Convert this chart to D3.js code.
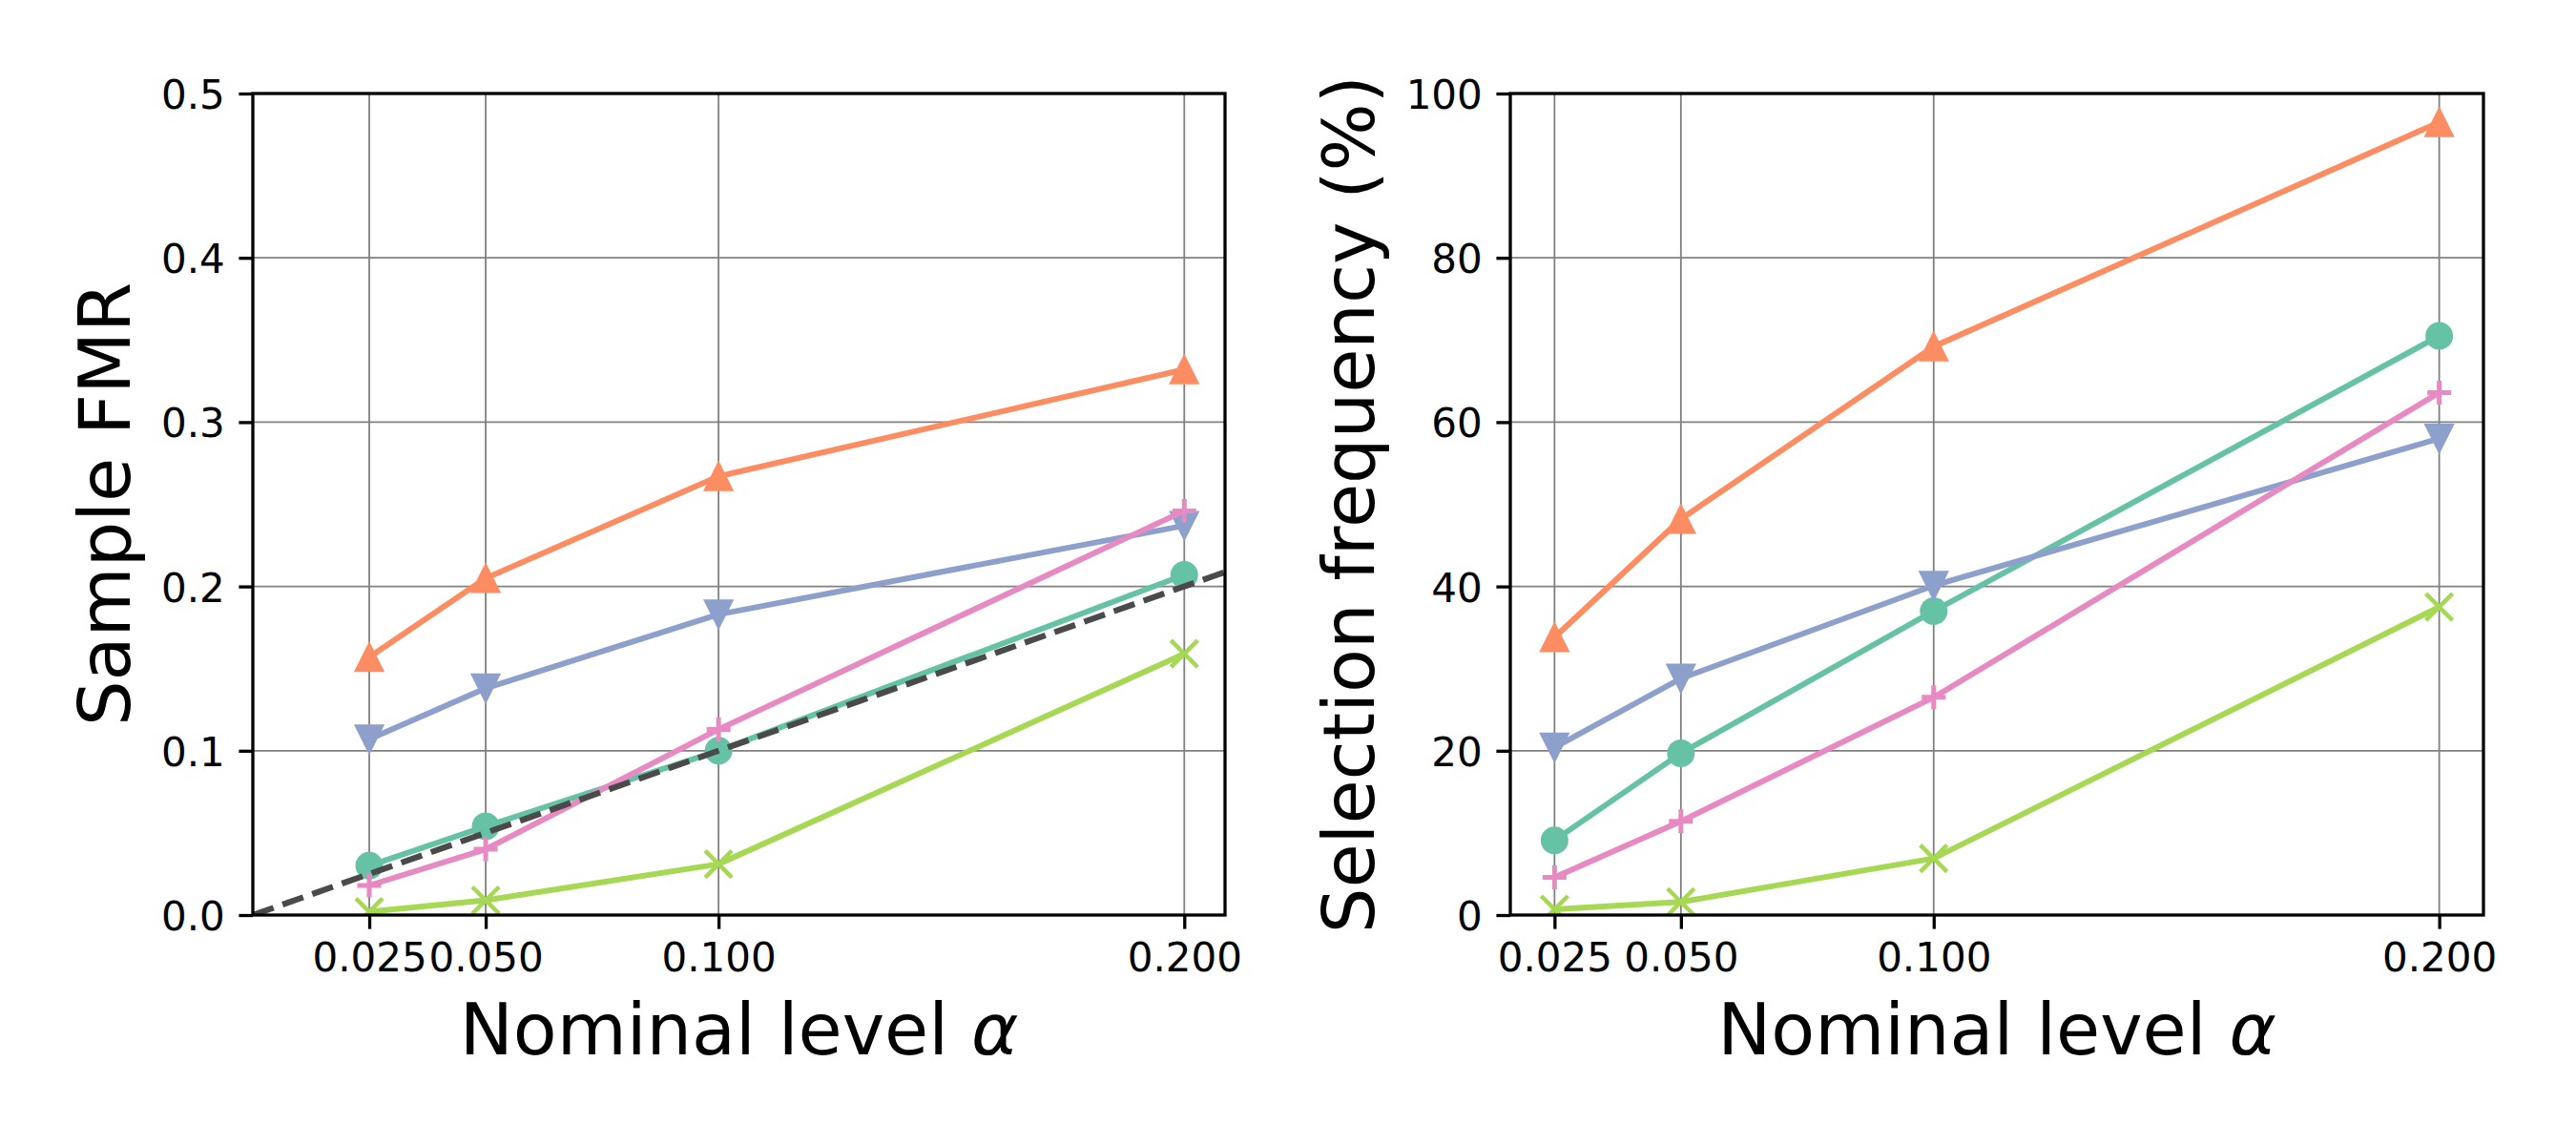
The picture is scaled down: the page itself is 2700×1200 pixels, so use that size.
<!DOCTYPE html>
<html>
<head>
<meta charset="utf-8">
<script src="https://cdn.jsdelivr.net/npm/d3@7"></script>
<style>
  body { margin: 0; background: #ffffff; }
  svg { display: block; font-family: "DejaVu Sans", sans-serif; }
</style>
</head>
<body>
<div id="chart"></div>
<script>
// Nominal levels (x) and their tick labels
const alphas = [0.025, 0.05, 0.1, 0.2];
const alphaTickLabels = ['0.025', '0.050', '0.100', '0.200'];

// Left panel: sample FMR per method
const fmrCircle   = [0.030, 0.054, 0.100, 0.207];
const fmrTriUp    = [0.157, 0.205, 0.267, 0.332];
const fmrTriDown  = [0.107, 0.138, 0.183, 0.237];
const fmrPlus     = [0.018, 0.040, 0.113, 0.246];
const fmrCross    = [0.002, 0.009, 0.031, 0.159];
const fmrTicks    = [0, 0.1, 0.2, 0.3, 0.4, 0.5];
const fmrTickLabels = ['0.0', '0.1', '0.2', '0.3', '0.4', '0.5'];

// Right panel: selection frequency (%) per method
const selCircle   = [9.1, 19.7, 37.0, 70.5];
const selTriUp    = [33.8, 48.2, 69.2, 96.5];
const selTriDown  = [20.4, 28.8, 40.1, 58.0];
const selPlus     = [4.6, 11.4, 26.5, 63.6];
const selCross    = [0.7, 1.6, 6.9, 37.5];
const selTicks    = [0, 20, 40, 60, 80, 100];
const selTickLabels = ['0', '20', '40', '60', '80', '100'];

// Reference diagonal y = x for the FMR panel
const diagX = [0, 0.25];

// Styles (Set2 palette), one per method, in drawing order
const methodStyles = [
    { marker: 'circle',   color: '#66c2a5' },
    { marker: 'triUp',    color: '#fc8d62' },
    { marker: 'triDown',  color: '#8da0cb' },
    { marker: 'plus',     color: '#e78ac3' },
    { marker: 'cross',    color: '#a6d854' }
];

const width = 2700, height = 1200;
const tickFont = 42, labelFont = 75;
const tickLen = 14.6;

const svg = d3.select('#chart')
    .append('svg')
    .attr('width', width)
    .attr('height', height);

svg.append('rect')
    .attr('width', width)
    .attr('height', height)
    .attr('fill', '#ffffff');

function drawMarker(g, type, x, y, color) {
    const s = 14.5;
    if (type === 'circle') {
        g.append('circle')
            .attr('cx', x).attr('cy', y).attr('r', s)
            .attr('fill', color);
    } else if (type === 'triUp' || type === 'triDown') {
        const d = type === 'triUp' ? 1 : -1;
        const pts = [[x, y - d * s], [x - s, y + d * s], [x + s, y + d * s]];
        g.append('path')
            .attr('d', d3.line()(pts) + 'Z')
            .attr('fill', color)
            .attr('stroke', color)
            .attr('stroke-width', 2)
            .attr('stroke-linejoin', 'miter');
    } else if (type === 'plus') {
        const h = 12.5;
        g.append('path')
            .attr('d', `M${x - h},${y}H${x + h}M${x},${y - h}V${y + h}`)
            .attr('stroke', color)
            .attr('stroke-width', 5)
            .attr('fill', 'none');
    } else if (type === 'cross') {
        const h = 14;
        g.append('path')
            .attr('d', `M${x - h},${y - h}L${x + h},${y + h}M${x - h},${y + h}L${x + h},${y - h}`)
            .attr('stroke', color)
            .attr('stroke-width', 4.5)
            .attr('fill', 'none');
    }
}

function drawPanel(opts) {
    const { left, right, top, bottom, xDomain, yDomain, yTicks, yTickLabels,
            series, yLabel, yLabelX, showDiag, id } = opts;

    const x = d3.scaleLinear().domain(xDomain).range([left, right]);
    const y = d3.scaleLinear().domain(yDomain).range([bottom, top]);

    const g = svg.append('g');

    // Clip region for the plotted data
    svg.append('clipPath')
        .attr('id', id)
        .append('rect')
        .attr('x', left).attr('y', top)
        .attr('width', right - left).attr('height', bottom - top);

    // Grid
    const grid = g.append('g')
        .attr('stroke', '#808080')
        .attr('stroke-width', 1.8);
    alphas.forEach(a => {
        grid.append('line')
            .attr('x1', x(a)).attr('x2', x(a))
            .attr('y1', top).attr('y2', bottom);
    });
    yTicks.forEach(t => {
        grid.append('line')
            .attr('x1', left).attr('x2', right)
            .attr('y1', y(t)).attr('y2', y(t));
    });

    // Lines and markers
    const plot = g.append('g').attr('clip-path', `url(#${id})`);
    const line = d3.line()
        .x((d, i) => x(alphas[i]))
        .y(d => y(d));

    series.forEach((values, k) => {
        const st = methodStyles[k];
        plot.append('path')
            .datum(values)
            .attr('d', line)
            .attr('fill', 'none')
            .attr('stroke', st.color)
            .attr('stroke-width', 6)
            .attr('stroke-linejoin', 'round');
        values.forEach((v, i) => drawMarker(plot, st.marker, x(alphas[i]), y(v), st.color));
    });

    if (showDiag) {
        plot.append('path')
            .datum(diagX)
            .attr('d', d3.line().x(d => x(d)).y(d => y(d)))
            .attr('fill', 'none')
            .attr('stroke', '#4a4a4a')
            .attr('stroke-width', 6.25)
            .attr('stroke-dasharray', '23,10');
    }

    // Spines
    g.append('rect')
        .attr('x', left).attr('y', top)
        .attr('width', right - left).attr('height', bottom - top)
        .attr('fill', 'none')
        .attr('stroke', '#000000')
        .attr('stroke-width', 3.3);

    // X axis ticks
    const xAxis = g.append('g')
        .attr('transform', `translate(0,${bottom})`)
        .call(d3.axisBottom(x)
            .tickValues(alphas)
            .tickFormat((d, i) => alphaTickLabels[i])
            .tickSize(tickLen)
            .tickPadding(14.6));
    xAxis.select('.domain').remove();
    xAxis.selectAll('line').attr('stroke', '#000').attr('stroke-width', 3.3);
    xAxis.selectAll('text')
        .attr('fill', '#000')
        .style('font-size', tickFont + 'px')
        .style('font-family', '"DejaVu Sans", sans-serif');

    // Y axis ticks
    const yAxis = g.append('g')
        .attr('transform', `translate(${left},0)`)
        .call(d3.axisLeft(y)
            .tickValues(yTicks)
            .tickFormat((d, i) => yTickLabels[i])
            .tickSize(tickLen)
            .tickPadding(14.6));
    yAxis.select('.domain').remove();
    yAxis.selectAll('line').attr('stroke', '#000').attr('stroke-width', 3.3);
    yAxis.selectAll('text')
        .attr('fill', '#000')
        .attr('dy', '0.37em')
        .style('font-size', tickFont + 'px')
        .style('font-family', '"DejaVu Sans", sans-serif');

    // X label
    const xl = g.append('text')
        .attr('x', (left + right) / 2)
        .attr('y', 1105)
        .attr('text-anchor', 'middle')
        .style('font-size', labelFont + 'px');
    xl.append('tspan').text('Nominal level ');
    xl.append('tspan').style('font-style', 'italic').text('α');

    // Y label
    g.append('text')
        .attr('transform', `translate(${yLabelX},${(top + bottom) / 2}) rotate(-90)`)
        .attr('text-anchor', 'middle')
        .style('font-size', labelFont + 'px')
        .text(yLabel);
}

drawPanel({
    id: 'clipLeft',
    left: 265, right: 1284, top: 98, bottom: 959,
    xDomain: [0, 0.20875],
    yDomain: [0, 0.5],
    yTicks: fmrTicks, yTickLabels: fmrTickLabels,
    series: [fmrCircle, fmrTriUp, fmrTriDown, fmrPlus, fmrCross],
    yLabel: 'Sample FMR', yLabelX: 136,
    showDiag: true
});

drawPanel({
    id: 'clipRight',
    left: 1583, right: 2603, top: 98, bottom: 959,
    xDomain: [0.01625, 0.20875],
    yDomain: [0, 100],
    yTicks: selTicks, yTickLabels: selTickLabels,
    series: [selCircle, selTriUp, selTriDown, selPlus, selCross],
    yLabel: 'Selection frequency (%)', yLabelX: 1440,
    showDiag: false
});
</script>
</body>
</html>
